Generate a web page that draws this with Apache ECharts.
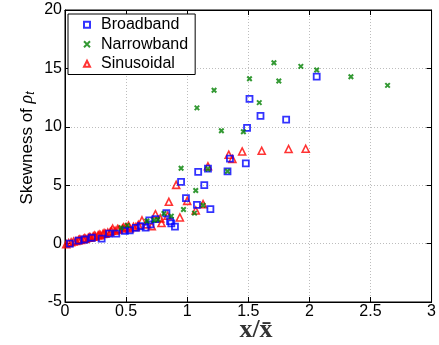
<!DOCTYPE html>
<html>
<head>
<meta charset="utf-8">
<script src="https://cdn.jsdelivr.net/npm/echarts@6/dist/echarts.min.js"></script>
<style>html,body{margin:0;padding:0;background:#fff}#c{width:439px;height:345px}</style>
</head>
<body>
<div id="c"></div>
<script>
var seriesNames = ['Broadband', 'Narrowband', 'Sinusoidal'];
var xTicks = [0, 0.5, 1, 1.5, 2, 2.5, 3];
var yTicks = [-5, 0, 5, 10, 15, 20];

var broadX = [0.04,0.11,0.16,0.22,0.30,0.36,0.42,0.49,0.53,0.58,0.62,0.66,0.69,0.74,0.70,0.83,0.86,0.87,0.90,0.95,0.99,1.08,1.09,1.14,1.17,1.19,1.33,1.35,1.48,1.49,1.51,1.60,1.81,2.06];
var broadY = [0.00,0.25,0.35,0.50,0.43,0.85,0.85,1.10,1.13,1.35,1.50,1.36,1.99,2.10,1.65,2.60,1.93,1.73,1.45,5.28,3.90,3.32,6.14,5.00,6.42,2.95,6.19,7.28,6.87,9.91,12.39,10.94,10.62,14.29];

var narrowX = [0.46,0.51,0.67,0.73,0.76,0.81,0.87,0.95,0.97,1.06,1.07,1.08,1.13,1.17,1.22,1.28,1.33,1.46,1.51,1.59,1.71,1.75,1.93,2.06,2.34,2.64];
var narrowY = [1.36,1.56,1.93,2.00,2.07,2.58,2.35,6.45,2.92,2.61,4.55,11.62,3.28,6.39,13.13,9.66,6.19,9.57,14.12,12.07,15.48,13.92,15.17,14.86,14.29,13.55];

var sinX = [0.01,0.03,0.05,0.07,0.09,0.11,0.12,0.13,0.15,0.16,0.17,0.19,0.20,0.21,0.23,0.24,0.25,0.27,0.28,0.29,0.31,0.32,0.33,0.35,0.37,0.38,0.39,0.41,0.43,0.44,0.47,0.48,0.50,0.52,0.53,0.56,0.58,0.60,0.63,0.67,0.71,0.74,0.78,0.79,0.84,0.85,0.91,0.94,1.00,1.07,1.13,1.17,1.34,1.37,1.45,1.61,1.83,1.97];
var sinY = [-0.05,0.05,0.12,0.18,0.22,0.30,0.35,0.32,0.38,0.45,0.42,0.50,0.55,0.52,0.60,0.68,0.62,0.70,0.78,0.72,0.82,0.90,0.85,0.95,1.00,1.10,1.28,1.10,1.25,1.20,1.30,1.40,1.40,1.55,1.30,1.45,1.42,1.60,1.99,1.65,1.50,2.52,2.16,1.76,2.39,3.58,5.03,2.24,3.66,2.84,3.38,6.62,7.61,7.25,7.89,7.95,8.10,8.12];

function zip(xs, ys) { return xs.map(function (x, i) { return [x, ys[i]]; }); }

var chart = echarts.init(document.getElementById('c'), null, {renderer: 'canvas'});
var gridLine = {show: true, lineStyle: {color: '#bdbdbd', type: [1, 2], width: 1}};
var labelFont = {color: '#000', fontSize: 16, fontFamily: 'Liberation Sans, Arial, sans-serif'};

chart.setOption({
  animation: false,
  backgroundColor: '#fff',
  grid: {left: 65, right: 2, top: 10, bottom: 43, show: true, borderColor: '#000', borderWidth: 1},
  legend: {
    orient: 'vertical', left: 68, top: 14,
    data: seriesNames,
    backgroundColor: '#fff',
    borderColor: '#000', borderWidth: 1,
    padding: [1, 7, 1, 15],
    itemWidth: 6, itemHeight: 6, itemGap: 0,
    textStyle: {color: '#000', fontSize: 16, fontFamily: 'Liberation Sans, Arial, sans-serif', lineHeight: 19.5, padding: [0, 0, 0, 6]}
  },
  xAxis: [{
    type: 'value', min: xTicks[0], max: xTicks[xTicks.length - 1], interval: 0.5,
    axisLine: {show: true, onZero: false, lineStyle: {color: '#000'}},
    axisTick: {show: true, inside: true, length: 5, lineStyle: {color: '#000'}},
    axisLabel: Object.assign({margin: 2, formatter: function (v) { return String(v); }}, labelFont),
    splitLine: gridLine
  }, {
    type: 'value', position: 'top', min: xTicks[0], max: xTicks[xTicks.length - 1], interval: 0.5,
    axisLine: {show: true, onZero: false, lineStyle: {color: '#000'}},
    axisTick: {show: true, inside: true, length: 5, lineStyle: {color: '#000'}},
    axisLabel: {show: false}, splitLine: {show: false}
  }],
  yAxis: [{
    type: 'value', min: yTicks[0], max: yTicks[yTicks.length - 1], interval: 5,
    axisLine: {show: true, onZero: false, lineStyle: {color: '#000'}},
    axisTick: {show: true, inside: true, length: 5, lineStyle: {color: '#000'}},
    axisLabel: Object.assign({margin: 3}, labelFont),
    splitLine: gridLine
  }, {
    type: 'value', position: 'right', min: yTicks[0], max: yTicks[yTicks.length - 1], interval: 5,
    axisLine: {show: true, onZero: false, lineStyle: {color: '#000'}},
    axisTick: {show: true, inside: true, length: 5, lineStyle: {color: '#000'}},
    axisLabel: {show: false}, splitLine: {show: false}
  }],
  graphic: [{
    type: 'text', x: 27, y: 148, rotation: Math.PI / 2,
    style: {
      text: 'Skewness of {r|ρ}{s|t}',
      font: '17px "Liberation Sans", Arial, sans-serif',
      fill: '#000', align: 'center', verticalAlign: 'middle',
      rich: {
        r: {fontSize: 18, fontStyle: 'italic', fontFamily: 'Liberation Serif, serif', fill: '#000'},
        s: {fontSize: 12, fontStyle: 'italic', fontFamily: 'Liberation Sans, sans-serif', padding: [8, 0, 0, 0], fill: '#000'}
      }
    }
  }, {
    type: 'text', x: 256, y: 330,
    style: {
      text: 'x/x\u0304',
      font: 'bold 26px "Liberation Serif", "DejaVu Serif", serif',
      fill: '#333', align: 'center', verticalAlign: 'middle'
    }
  }],
  series: [{
    name: seriesNames[0], type: 'scatter', data: zip(broadX, broadY),
    symbol: 'rect', symbolSize: 6,
    itemStyle: {color: 'rgba(0,0,0,0)', borderColor: '#0000ff', borderWidth: 1.8},
    z: 3
  }, {
    name: seriesNames[1], type: 'scatter', data: zip(narrowX, narrowY),
    symbol: 'path://M0,0L10,10M10,0L0,10', symbolSize: 4.5,
    itemStyle: {color: 'rgba(0,0,0,0)', borderColor: '#008000', borderWidth: 2},
    z: 4
  }, {
    name: seriesNames[2], type: 'scatter', data: zip(sinX, sinY),
    symbol: 'triangle', symbolSize: 7,
    itemStyle: {color: 'rgba(0,0,0,0)', borderColor: '#ff0000', borderWidth: 1.6},
    z: 2
  }]
});
</script>
</body>
</html>
